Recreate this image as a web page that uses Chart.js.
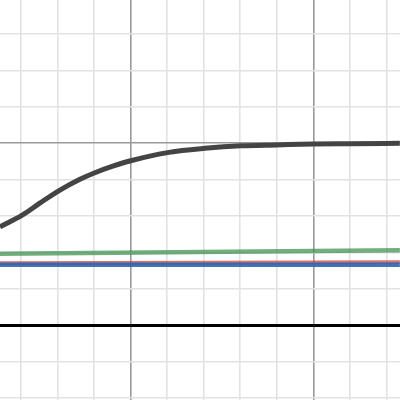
<!DOCTYPE html>
<html>
<head>
<meta charset="utf-8">
<script src="https://cdn.jsdelivr.net/npm/chart.js@4/dist/chart.umd.min.js"></script>
<style>
  html, body { margin: 0; padding: 0; background: #fff; }
  #wrap { width: 400px; height: 400px; }
</style>
</head>
<body>
<div id="wrap"><canvas id="graph"></canvas></div>
<script>
// values (grid units, minor line = 1)
const curveX = [1.42, 2.04, 2.52, 3.04, 3.61, 4.02, 4.51, 5.0, 6.05, 7.03, 8.02, 9.0, 10.0, 11.0, 12.37];
const curveY = [2.70, 3.03, 3.36, 3.70, 4.01, 4.19, 4.37, 4.52, 4.75, 4.86, 4.93, 4.955, 4.98, 4.99, 5.0];
const greenX = [1.42, 12.37];
const greenY = [1.96, 2.06];
const redX = [1.42, 12.37];
const redY = [1.70, 1.73];
const blueX = [1.42, 12.37];
const blueY = [1.66, 1.66];
const xTicks = [2, 3, 4, 5, 6, 7, 8, 9, 10, 11, 12];
const yTicks = [-2, -1, 0, 1, 2, 3, 4, 5, 6, 7, 8];

function pts(xs, ys) {
    return xs.map((x, i) => ({x: x, y: ys[i]}));
}

function gridColor(c) {
    if (!c.tick) return 'rgba(0,0,0,0)';
    let v = Math.round(c.tick.value);
    if (c.scale.axis === 'y' && v === 0) return '#000000';
    if (v % 5 === 0) return '#999999';
    return '#e2e2e2';
}

function gridWidth(c) {
    if (!c.tick) return 0;
    if (c.scale.axis === 'y' && Math.round(c.tick.value) === 0) return 3;
    return 1.6;
}

const ctx = document.getElementById('graph').getContext('2d');

new Chart(ctx, {
    type: 'scatter',
    data: {
        datasets: [
            {
                data: pts(curveX, curveY),
                showLine: true,
                borderColor: '#444444',
                borderWidth: 5,
                pointRadius: 0,
                cubicInterpolationMode: 'monotone',
                order: 0
            },
            {
                data: pts(blueX, blueY),
                showLine: true,
                borderColor: 'rgba(45,100,175,0.9)',
                borderWidth: 4.5,
                pointRadius: 0,
                order: 1
            },
            {
                data: pts(redX, redY),
                showLine: true,
                borderColor: 'rgba(199,68,64,0.75)',
                borderWidth: 4,
                pointRadius: 0,
                order: 2
            },
            {
                data: pts(greenX, greenY),
                showLine: true,
                borderColor: 'rgba(56,140,70,0.7)',
                borderWidth: 4.5,
                pointRadius: 0,
                order: 3
            }
        ]
    },
    options: {
        responsive: true,
        maintainAspectRatio: false,
        animation: false,
        layout: { padding: 0 },
        plugins: {
            legend: { display: false },
            tooltip: { enabled: false }
        },
        scales: {
            x: {
                type: 'linear',
                min: 1.421,
                max: 12.374,
                afterBuildTicks: function(s) { s.ticks = xTicks.map(v => ({value: v})); },
                border: { display: false, width: 0, color: 'rgba(0,0,0,0)' },
                ticks: { display: false },
                grid: { color: gridColor, lineWidth: gridWidth, drawTicks: false }
            },
            y: {
                type: 'linear',
                min: -2.06,
                max: 8.94,
                afterBuildTicks: function(s) { s.ticks = yTicks.map(v => ({value: v})); },
                border: { display: false, width: 0, color: 'rgba(0,0,0,0)' },
                ticks: { display: false },
                grid: { color: gridColor, lineWidth: gridWidth, drawTicks: false }
            }
        }
    }
});
</script>
</body>
</html>
